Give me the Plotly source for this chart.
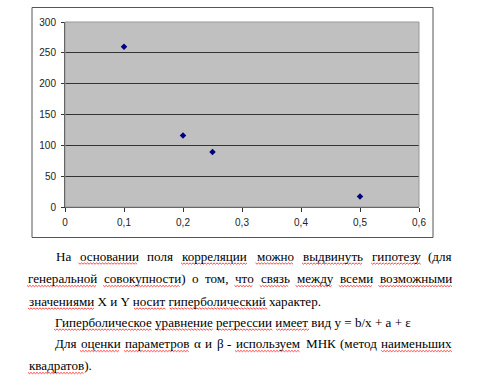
import plotly.graph_objects as go

# ---- chart data ----
x_values = [0.1, 0.2, 0.25, 0.5]
y_values = [260, 116, 89, 17]
x_ticks = [0, 0.1, 0.2, 0.3, 0.4, 0.5, 0.6]
y_ticks = [0, 50, 100, 150, 200, 250, 300]

# ---- text below the chart ----
line1 = "На основании поля корреляции можно выдвинуть гипотезу (для"
line2 = "генеральной совокупности) о том, что связь между всеми возможными"
line3 = "значениями X и Y носит гиперболический характер."
line4 = "Гиперболическое уравнение регрессии имеет вид y = b/x + a + ε"
line5 = "Для оценки параметров α и β - используем МНК (метод наименьших"
line6 = "квадратов)."
underlined = {"основании", "корреляции", "можно", "выдвинуть", "гипотезу",
              "генеральной", "совокупности", "что", "связь", "между", "всеми", "возможными",
              "значениями", "носит", "гиперболический",
              "Гиперболическое", "уравнение", "регрессии", "имеет",
              "оценки", "параметров", "используем", "наименьших", "квадратов"}

W, H = 479, 377
L, R, T, B = 65, 419, 22, 207
FS = 13.1

# (text, left px, right px or None for ragged, baseline px)
text_layout = [
    (line1, 55, 453, 260.5),
    (line2, 27, 453, 283),
    (line3, 28, None, 305.5),
    (line4, 54, None, 326.5),
    (line5, 54, 453, 348),
    (line6, 28, None, 370),
]

# approximate Times/Liberation Serif advance widths (em)
CW = {
    "а": .444, "б": .5, "в": .47, "г": .41, "д": .5, "е": .444, "ж": .72, "з": .4, "и": .54,
    "й": .54, "к": .49, "л": .51, "м": .66, "н": .54, "о": .5, "п": .54, "р": .5, "с": .444,
    "т": .45, "у": .5, "ф": .65, "х": .5, "ц": .54, "ч": .51, "ш": .8, "щ": .8, "ъ": .5,
    "ы": .7, "ь": .47, "э": .44, "ю": .74, "я": .49,
    "Н": .72, "Г": .61, "Д": .66, "М": .89, "К": .7, "X": .722, "Y": .722,
    "(": .333, ")": .333, ",": .25, ".": .25, "-": .333, "=": .564, "+": .564, "/": .278,
    "α": .53, "β": .5, "ε": .43, "y": .5, "b": .5, "x": .5, "a": .444, " ": .25,
}


def wwidth(w):
    return sum(CW.get(c, .5) for c in w) * FS


def px(x):
    return (x - L) / (R - L)


def py(y):
    return (B - y) / (B - T)


fig = go.Figure()
fig.add_trace(go.Scatter(
    x=x_values, y=y_values, mode="markers",
    marker=dict(symbol="diamond", size=5, color="#000080"),
    showlegend=False, hoverinfo="x+y"))

shapes = []
annotations = []

# outer chart border
shapes.append(dict(type="rect", xref="paper", yref="paper",
                   x0=px(32), x1=px(433), y0=py(237.5), y1=py(7.5),
                   line=dict(color="#555555", width=1), fillcolor="rgba(0,0,0,0)", layer="below"))
# plot area border (gray)
shapes.append(dict(type="rect", xref="paper", yref="paper", x0=0, x1=1, y0=0, y1=1,
                   line=dict(color="#999999", width=1), fillcolor="rgba(0,0,0,0)", layer="above"))


def squiggle(x0, x1, base):
    yb = base + 2.4
    pts = []
    xx, k = x0, 0
    while xx <= x1:
        pts.append((px(xx), py(yb + (0 if k % 2 == 0 else 1.3))))
        xx += 1.5
        k += 1
    path = "M " + " L ".join(f"{a:.5f},{b:.5f}" for a, b in pts)
    return dict(type="path", xref="paper", yref="paper", path=path,
                line=dict(color="#ff3030", width=0.9))


font = dict(family="Liberation Serif", size=FS, color="#000000")
for text, left, right, base in text_layout:
    ymid = py(base - 4.4)
    words = text.split(" ")
    if right is not None:
        widths = [wwidth(w) for w in words]
        gap = (right - left - sum(widths)) / (len(words) - 1)
        xs = []
        x = left
        for wdt in widths:
            xs.append(x)
            x += wdt + gap
        for i, (w, x0) in enumerate(zip(words, xs)):
            if i == len(words) - 1:
                annotations.append(dict(text=w, xref="paper", yref="paper", x=px(right + 1), y=ymid,
                                        xanchor="right", yanchor="middle", showarrow=False, font=font))
            else:
                annotations.append(dict(text=w, xref="paper", yref="paper", x=px(x0 - 1), y=ymid,
                                        xanchor="left", yanchor="middle", showarrow=False, font=font))
    else:
        annotations.append(dict(text=text, xref="paper", yref="paper", x=px(left - 1), y=ymid,
                                xanchor="left", yanchor="middle", showarrow=False, font=font))
        xs = []
        x = left
        for w in words:
            xs.append(x)
            x += wwidth(w) + CW[" "] * FS
    for w, x0 in zip(words, xs):
        core = w.strip("().,")
        if core in underlined:
            off = wwidth(w[:len(w) - len(w.lstrip("("))])
            shapes.append(squiggle(x0 + off, x0 + off + wwidth(core), base))

tick_font = dict(family="Liberation Sans", size=10, color="#222222")
fig.update_layout(
    width=W, height=H,
    margin=dict(l=L, r=W - R, t=T, b=H - B, pad=0),
    paper_bgcolor="#ffffff", plot_bgcolor="#c0c0c0",
    separators=", ",
    xaxis=dict(range=[0, 0.6], tickvals=x_ticks, ticks="outside", ticklen=4,
               tickcolor="#333333", showline=True, linecolor="#333333", linewidth=1,
               showgrid=False, zeroline=False, tickfont=tick_font, fixedrange=True,
               ticklabelstandoff=2),
    yaxis=dict(range=[0, 300], tickvals=y_ticks, ticks="outside", ticklen=3,
               tickcolor="#333333", showline=True, linecolor="#333333", linewidth=1,
               showgrid=True, gridcolor="#333333", gridwidth=1, zeroline=False,
               tickfont=tick_font, fixedrange=True, ticklabelstandoff=3),
    shapes=shapes, annotations=annotations,
)

fig.write_html("out.html", config={"displayModeBar": False},
               post_script="document.body.style.margin='0px';document.body.style.overflow='hidden';")
